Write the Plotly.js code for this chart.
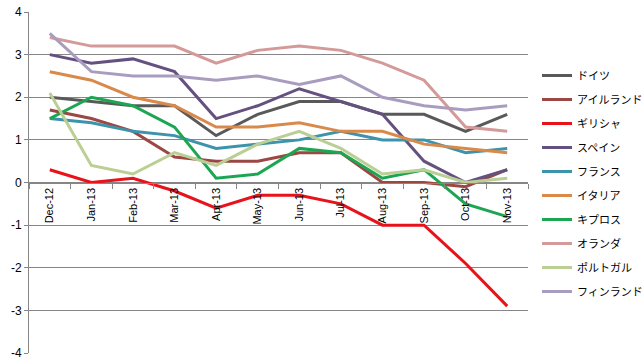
<!DOCTYPE html>
<html>
<head>
<meta charset="utf-8">
<script src="https://cdn.plot.ly/plotly-3.0.1.min.js"></script>
<style>html,body{margin:0;padding:0;background:#fff;}</style>
</head>
<body>
<div id="chart" style="width:644px;height:364px;"></div>
<script>
const months = ["Dec-12","Jan-13","Feb-13","Mar-13","Apr-13","May-13","Jun-13","Jul-13","Aug-13","Sep-13","Oct-13","Nov-13"];
const seriesNames = ["ドイツ","アイルランド","ギリシャ","スペイン","フランス","イタリア","キプロス","オランダ","ポルトガル","フィンランド"];
const germany  = [2.0,1.9,1.8,1.8,1.1,1.6,1.9,1.9,1.6,1.6,1.2,1.6];
const ireland  = [1.7,1.5,1.2,0.6,0.5,0.5,0.7,0.7,0.0,0.0,-0.1,0.3];
const greece   = [0.3,0.0,0.1,-0.2,-0.6,-0.3,-0.3,-0.5,-1.0,-1.0,-1.9,-2.9];
const spain    = [3.0,2.8,2.9,2.6,1.5,1.8,2.2,1.9,1.6,0.5,0.0,0.3];
const france   = [1.5,1.4,1.2,1.1,0.8,0.9,1.0,1.2,1.0,1.0,0.7,0.8];
const italy    = [2.6,2.4,2.0,1.8,1.3,1.3,1.4,1.2,1.2,0.9,0.8,0.7];
const cyprus   = [1.5,2.0,1.8,1.3,0.1,0.2,0.8,0.7,0.1,0.3,-0.5,-0.8];
const netherlands = [3.4,3.2,3.2,3.2,2.8,3.1,3.2,3.1,2.8,2.4,1.3,1.2];
const portugal = [2.1,0.4,0.2,0.7,0.4,0.9,1.2,0.8,0.2,0.3,0.0,0.1];
const finland  = [3.5,2.6,2.5,2.5,2.4,2.5,2.3,2.5,2.0,1.8,1.7,1.8];
const yTicks = [-4,-3,-2,-1,0,1,2,3,4];

const allSeries = [germany, ireland, greece, spain, france, italy, cyprus, netherlands, portugal, finland];
const colors = ["#595959","#9B4743","#E8121A","#65517F","#3D93AB","#D9894A","#1DA652","#D39A99","#BBCF95","#A99DBF"];

const traces = allSeries.map((vals, i) => ({
  type: "scatter",
  mode: "lines",
  x: months,
  y: vals,
  name: seriesNames[i],
  legendgroup: "g" + i,
  line: {color: colors[i], width: 3},
  hoverinfo: "skip"
}));

const layout = {
  width: 644,
  height: 364,
  margin: {l: 29, r: 116, t: 12, b: 11, pad: 0},
  paper_bgcolor: "#fff",
  plot_bgcolor: "#fff",
  showlegend: true,
  legend: {
    xref: "container", yref: "container",
    x: 537/644, y: 1 - 61/364, xanchor: "left", yanchor: "top",
    font: {family: "Noto Sans CJK JP, sans-serif", size: 11, color: "#000"},
    traceorder: "grouped",
    tracegroupgap: 5,
    itemwidth: 30,
    maxheight: 300,
    bgcolor: "rgba(0,0,0,0)"
  },
  xaxis: {
    type: "category",
    anchor: "free",
    position: 0.5,
    showline: true,
    linecolor: "#868686",
    linewidth: 1,
    showgrid: false,
    zeroline: false,
    ticks: "outside",
    tickson: "boundaries",
    ticklen: 5,
    tickcolor: "#868686",
    tickangle: -90,
    tickfont: {family: "Liberation Sans, Arial, sans-serif", size: 11, color: "#000"},
    range: [-0.5, 11.5]
  },
  yaxis: {
    range: [-4, 4],
    tickvals: yTicks,
    ticktext: yTicks.map(String),
    showline: true,
    linecolor: "#868686",
    linewidth: 1,
    showgrid: true,
    gridcolor: "#868686",
    gridwidth: 1,
    zeroline: false,
    ticks: "outside",
    ticklen: 4,
    tickcolor: "#868686",
    tickfont: {family: "Liberation Sans, Arial, sans-serif", size: 12, color: "#000"}
  }
};

Plotly.newPlot("chart", traces, layout, {displayModeBar: false, staticPlot: true});
</script>
</body>
</html>
